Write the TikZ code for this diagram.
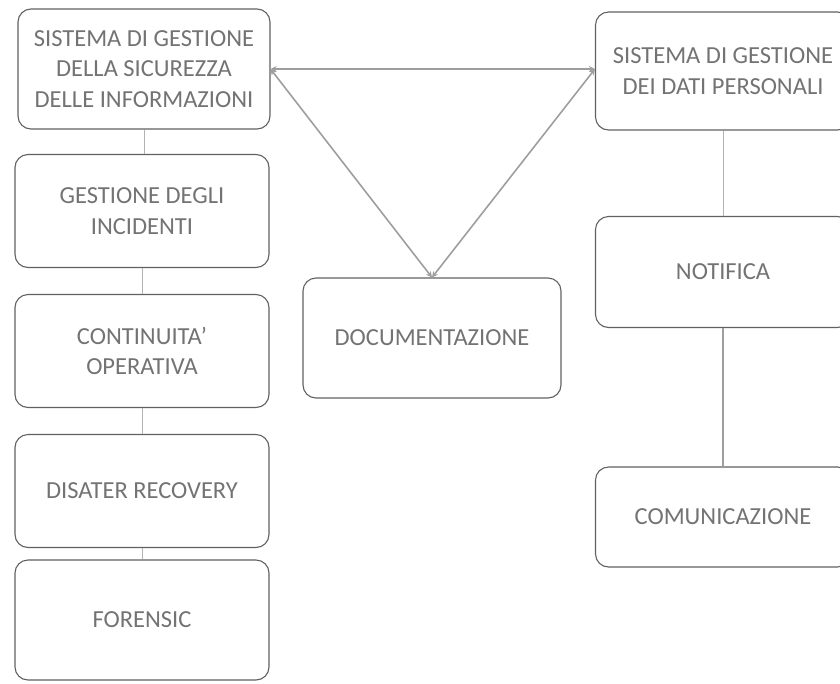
\documentclass[tikz,border=0pt]{standalone}
\usepackage{fontspec}
\setmainfont{Carlito}
\usetikzlibrary{arrows.meta}
\begin{document}
\begin{tikzpicture}[x=1pt,y=-1pt,
  box/.style={draw=black!62, line width=1.1pt, rounded corners=13pt, fill=white,
    text=black!55, font=\fontsize{24.5}{30.5}\selectfont, align=center, inner sep=0pt},
  link/.style={draw=black!38, line width=1.6pt},
  thin link/.style={draw=black!30, line width=1pt},
  duo/.style={link, {Stealth[length=6pt,width=6pt]}-{Stealth[length=6pt,width=6pt]}}]
\useasboundingbox (0,0) rectangle (840,683);
\clip (0,0) rectangle (840,683);
\node[box, minimum width=252pt, minimum height=120pt] (sgsi) at (144,69) {SISTEMA DI GESTIONE\\DELLA SICUREZZA\\DELLE INFORMAZIONI};
\node[box, minimum width=254pt, minimum height=113pt] (inc) at (142,211) {GESTIONE DEGLI\\INCIDENTI};
\node[box, minimum width=254pt, minimum height=113pt] (cont) at (142,351) {CONTINUITA'\\OPERATIVA};
\node[box, minimum width=254pt, minimum height=113pt] (dr) at (142,491) {DISATER RECOVERY};
\node[box, minimum width=254pt, minimum height=120pt] (for) at (142,620) {FORENSIC};
\node[box, minimum width=258pt, minimum height=120pt] (doc) at (432,338) {DOCUMENTAZIONE};
\node[box, minimum width=255pt, minimum height=118pt] (sgdp) at (723,71) {SISTEMA DI GESTIONE\\DEI DATI PERSONALI};
\node[box, minimum width=255pt, minimum height=111pt] (not) at (723,272) {NOTIFICA};
\node[box, minimum width=255pt, minimum height=100pt] (com) at (723,517) {COMUNICAZIONE};
\coordinate (sgdpw) at (sgsi.east -| sgdp.west);
\draw[duo] (sgsi.east) -- (sgdpw);
\draw[duo] (sgsi.east) -- (doc.north);
\draw[duo] (sgdpw) -- (doc.north);
\draw[thin link] (sgsi.south) -- (sgsi.south |- inc.north);
\draw[thin link] (inc.south) -- (cont.north);
\draw[thin link] (cont.south) -- (dr.north);
\draw[thin link] (dr.south) -- (for.north);
\draw[thin link] (sgdp.south) -- (not.north);
\draw[link] (not.south) -- (com.north);
\end{tikzpicture}
\end{document}
